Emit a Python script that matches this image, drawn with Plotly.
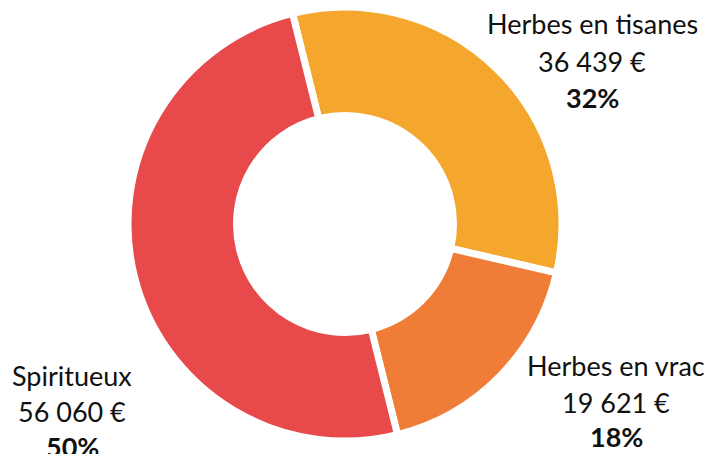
import plotly.graph_objects as go

# ---- data ----
categories = ["Herbes en tisanes", "Herbes en vrac", "Spiritueux"]
amounts = [36439, 19621, 56060]
percent_labels = ["32%", "18%", "50%"]
colors = ["#F5A72D", "#EF7D37", "#E84A4B"]

W, H = 708, 454

fig = go.Figure(
    go.Pie(
        labels=categories,
        values=amounts,
        hole=0.5,
        sort=False,
        direction="clockwise",
        rotation=-14,
        marker=dict(colors=colors, line=dict(color="white", width=7)),
        textinfo="none",
        hoverinfo="label+value+percent",
        showlegend=False,
        domain=dict(x=[(345 - 217) / W, (345 + 217) / W],
                    y=[(230 - 217) / H, (230 + 217) / H]),
    )
)

def fmt_amount(v):
    return f"{v:,}".replace(",", " ") + " €"

# label anchor positions (pixel centre x, centre y of each of the 3 lines)
label_pos = [
    (592, [24, 61, 97]),
    (616, [365, 402, 436]),
    (72, [375, 411, 446]),
]

annotations = []
for cat, amt, pct, (px, pys) in zip(categories, amounts, percent_labels, label_pos):
    lines = [cat, fmt_amount(amt), f"<b>{pct}</b>"]
    for txt, py in zip(lines, pys):
        annotations.append(dict(
            text=txt, x=px / W, y=1 - py / H, xref="paper", yref="paper",
            xanchor="center", yanchor="middle", showarrow=False,
            font=dict(family="Lato", size=27, color="#111111"),
        ))

fig.update_layout(
    width=W, height=H,
    margin=dict(l=0, r=0, t=0, b=0),
    paper_bgcolor="white",
    plot_bgcolor="white",
    annotations=annotations,
)

fig.write_html("out.html",
               config={"displayModeBar": False},
               post_script="document.body.style.margin='0';document.body.style.padding='0';")
